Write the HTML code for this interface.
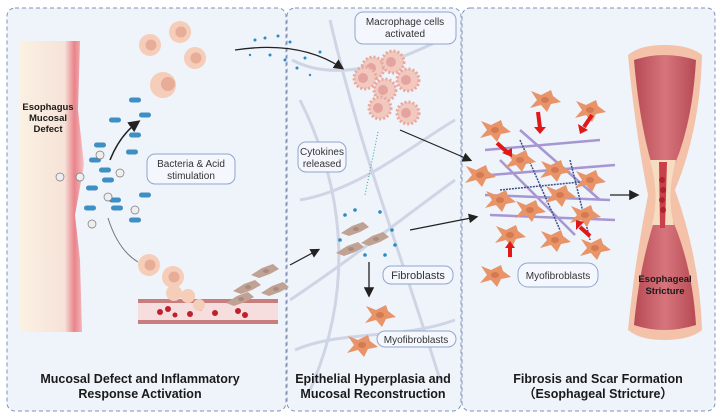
<!DOCTYPE html>
<html><head><style>
html,body{margin:0;padding:0;background:#fff;}
svg{display:block;font-family:"Liberation Sans",sans-serif;}
.t{font-weight:bold;font-size:12.5px;fill:#1a1a1a;text-anchor:middle;}
.b{font-size:10px;fill:#333;text-anchor:middle;}
.box{fill:#f4f7fd;stroke:#8fa6cc;stroke-width:1;}
</style></head><body>
<svg width="721" height="420" viewBox="0 0 721 420">
<defs>
<marker id="a" markerWidth="8" markerHeight="8" refX="6" refY="4" orient="auto"><path d="M0,0 L8,4 L0,8 z" fill="#222"/></marker>
<linearGradient id="wall" x1="0" x2="1"><stop offset="0" stop-color="#fbf1e3"/><stop offset="0.7" stop-color="#f6e2d8"/><stop offset="0.85" stop-color="#e9838a"/><stop offset="1" stop-color="#f3c4c7"/></linearGradient>
<linearGradient id="tube" x1="0" x2="1"><stop offset="0" stop-color="#b64a55"/><stop offset="0.5" stop-color="#d7757c"/><stop offset="1" stop-color="#b64a55"/></linearGradient>
<g id="myo"><path d="M-14,-9 L-4,-5 L6,-10 L8,-4 L16,2 L6,4 L2,12 L-4,5 L-15,8 L-8,0 Z" fill="#e89468"/><ellipse cx="0" cy="0" rx="4" ry="3" fill="#d47a52"/></g>
<g id="fib"><path d="M-14,3 L-3,-4 L8,-8 L14,-3 L5,2 L-6,6 Z" fill="#bfa294"/><ellipse cx="1" cy="-1" rx="3" ry="2" fill="#a88b7c"/></g>
<g id="mac"><circle r="11" fill="#f2c9be" stroke="#e8a8a0" stroke-width="3" stroke-dasharray="2 2"/><circle cx="-2" cy="0" r="5" fill="#e5a3a0"/></g>
<g id="cell"><circle r="11" fill="#f5cdb8"/><circle cx="1" cy="0" r="5.5" fill="#e7ad98"/></g>
<g id="bac"><rect x="-6" y="-2.5" width="12" height="5" rx="2.5" fill="#3d8fc4"/></g>
<g id="h"><circle r="4" fill="#eee" stroke="#777" stroke-width="0.7"/></g>
</defs>
<rect width="721" height="420" fill="#fff"/>
<rect x="7" y="8" width="279" height="403" rx="8" fill="#eff3fa" stroke="#7f92b8" stroke-dasharray="4 3"/>
<rect x="287" y="8" width="174" height="403" rx="8" fill="#eff3fa" stroke="#7f92b8" stroke-dasharray="4 3"/>
<rect x="462" y="8" width="253" height="403" rx="8" fill="#eff3fa" stroke="#7f92b8" stroke-dasharray="4 3"/>
<path d="M20,41 L80,41 L78,110 L84,165 L75,215 L80,260 L82,332 L20,332 Z" fill="url(#wall)"/>
<text class="t" style="font-size:9.5px" x="48" y="110">Esophagus</text>
<text class="t" style="font-size:9.5px" x="48" y="121">Mucosal</text>
<text class="t" style="font-size:9.5px" x="48" y="132">Defect</text>
<g stroke="#c8cee0" stroke-width="3" fill="none" opacity="0.8">
<path d="M330,20 C360,150 400,250 440,380"/><path d="M300,100 C350,200 350,300 310,390"/><path d="M290,300 C350,260 400,220 455,180"/><path d="M300,200 C360,190 420,140 455,120"/><path d="M292,60 C330,80 380,70 440,40"/><path d="M295,350 C340,330 400,340 455,320"/></g>
<use href="#cell" x="150" y="45"/><use href="#cell" x="180" y="32"/><use href="#cell" x="195" y="58"/>
<circle cx="163" cy="85" r="13" fill="#f5cdb8"/><circle cx="168" cy="84" r="7" fill="#e7ad98"/>
<g><use href="#bac" x="135" y="100"/><use href="#bac" x="145" y="115"/><use href="#bac" x="115" y="120"/><use href="#bac" x="135" y="135"/><use href="#bac" x="100" y="145"/><use href="#bac" x="95" y="160"/><use href="#bac" x="105" y="170"/><use href="#bac" x="92" y="188"/><use href="#bac" x="90" y="208"/><use href="#bac" x="117" y="208"/><use href="#bac" x="132" y="152"/><use href="#bac" x="145" y="195"/><use href="#bac" x="108" y="180"/><use href="#bac" x="115" y="200"/><use href="#bac" x="135" y="220"/></g>
<use href="#h" x="60" y="177"/><use href="#h" x="80" y="177"/><use href="#h" x="100" y="155"/><use href="#h" x="120" y="173"/><use href="#h" x="108" y="197"/><use href="#h" x="135" y="210"/><use href="#h" x="92" y="224"/>
<path d="M110,160 Q120,135 138,122" stroke="#222" stroke-width="1.5" fill="none" marker-end="url(#a)"/>
<path d="M108,218 Q118,250 138,262" stroke="#777" stroke-width="1" fill="none"/>
<rect class="box" x="147" y="154" width="88" height="30" rx="8"/>
<text class="b" x="191" y="167">Bacteria &amp; Acid</text><text class="b" x="191" y="179">stimulation</text>
<rect x="138" y="300" width="140" height="24" fill="#f7dede"/>
<rect x="138" y="299" width="140" height="4" fill="#c97e7e"/><rect x="138" y="320" width="140" height="4" fill="#c97e7e"/>
<g fill="#c0202e"><circle cx="160" cy="312" r="3"/><circle cx="168" cy="309" r="3"/><circle cx="190" cy="314" r="3"/><circle cx="200" cy="308" r="3"/><circle cx="215" cy="313" r="3"/><circle cx="238" cy="311" r="3"/><circle cx="245" cy="315" r="3"/><circle cx="175" cy="315" r="2.5"/></g>
<use href="#cell" x="149" y="265"/><use href="#cell" x="173" y="277"/><circle cx="174" cy="293" r="8" fill="#f5cdb8"/><circle cx="188" cy="296" r="7" fill="#f5cdb8"/><circle cx="199" cy="305" r="6" fill="#f5cdb8"/>
<use href="#fib" x="247" y="288"/><use href="#fib" x="265" y="272"/><use href="#fib" x="240" y="300"/><use href="#fib" x="275" y="290"/>
<path d="M290,265 L318,250" stroke="#222" stroke-width="1.2" marker-end="url(#a)"/>
<g fill="#2a8bc4"><circle cx="255" cy="40" r="1.5"/><circle cx="265" cy="38" r="1.5"/><circle cx="278" cy="36" r="1.5"/><circle cx="290" cy="42" r="1.5"/><circle cx="270" cy="55" r="1.5"/><circle cx="285" cy="60" r="1.5"/><circle cx="297" cy="68" r="1.5"/><circle cx="305" cy="58" r="1.5"/><circle cx="320" cy="52" r="1.5"/><circle cx="310" cy="75" r="1.2"/><circle cx="250" cy="55" r="1.2"/></g>
<path d="M235,50 Q300,40 342,68" stroke="#222" stroke-width="1.3" fill="none" marker-end="url(#a)"/>
<rect class="box" x="355" y="12" width="101" height="32" rx="8"/>
<text class="b" x="405" y="25">Macrophage cells</text><text class="b" x="405" y="37">activated</text>
<use href="#mac" x="373" y="68"/><use href="#mac" x="393" y="62"/><use href="#mac" x="408" y="80"/><use href="#mac" x="385" y="90"/><use href="#mac" x="380" y="108"/><use href="#mac" x="408" y="113"/><use href="#mac" x="365" y="78"/>
<rect class="box" x="298" y="142" width="48" height="30" rx="8"/>
<text class="b" x="322" y="155">Cytokines</text><text class="b" x="322" y="167">released</text>
<path d="M378,132 L365,195" stroke="#3aa0a8" stroke-width="1" stroke-dasharray="1 2"/>
<g fill="#2a8bc4"><circle cx="345" cy="215" r="1.8"/><circle cx="355" cy="210" r="1.8"/><circle cx="380" cy="212" r="1.8"/><circle cx="392" cy="230" r="1.8"/><circle cx="340" cy="240" r="1.8"/><circle cx="365" cy="255" r="1.8"/><circle cx="385" cy="255" r="1.8"/><circle cx="395" cy="245" r="1.8"/></g>
<use href="#fib" x="355" y="230"/><use href="#fib" x="375" y="240"/><use href="#fib" x="350" y="250"/>
<rect class="box" x="383" y="266" width="70" height="18" rx="8"/>
<text class="b" x="418" y="279" style="font-size:11px">Fibroblasts</text>
<path d="M369,262 L369,295" stroke="#222" stroke-width="1.3" marker-end="url(#a)"/>
<use href="#myo" x="380" y="315"/><use href="#myo" x="362" y="345"/>
<rect class="box" x="377" y="331" width="79" height="16" rx="8"/>
<text class="b" x="416" y="343">Myofibroblasts</text>
<path d="M400,130 L470,160" stroke="#222" stroke-width="1.2" marker-end="url(#a)"/>
<path d="M410,230 L476,217" stroke="#222" stroke-width="1.2" marker-end="url(#a)"/>
<g stroke="#9a86cc" stroke-width="2.5" fill="none" opacity="0.85">
<path d="M485,150 L600,140"/><path d="M490,175 L615,165"/><path d="M485,195 L610,200"/><path d="M490,215 L615,220"/><path d="M520,130 L600,200"/><path d="M500,160 L575,235"/></g>
<g stroke="#3e4f8c" stroke-width="1.5" fill="none" stroke-dasharray="2 1">
<path d="M520,140 L560,230"/><path d="M570,160 L590,240"/><path d="M500,190 L600,180"/></g>
<use href="#myo" x="545" y="100"/><use href="#myo" x="590" y="110"/><use href="#myo" x="495" y="130"/><use href="#myo" x="520" y="160"/><use href="#myo" x="555" y="170"/><use href="#myo" x="590" y="180"/><use href="#myo" x="500" y="200"/><use href="#myo" x="530" y="210"/><use href="#myo" x="560" y="195"/><use href="#myo" x="585" y="215"/><use href="#myo" x="510" y="235"/><use href="#myo" x="555" y="240"/><use href="#myo" x="595" y="248"/><use href="#myo" x="495" y="275"/><use href="#myo" x="480" y="175"/>
<g stroke="#e01818" stroke-width="4" fill="none">
<path d="M538,112 L540,128"/><path d="M592,115 L584,127"/><path d="M497,143 L507,152"/><path d="M510,257 L510,246"/><path d="M590,236 L580,227"/></g>
<g fill="#e01818"><path d="M534,127 L546,127 L540,134 Z"/><path d="M578,124 L588,130 L580,134 Z"/><path d="M502,153 L512,148 L512,157 Z"/><path d="M505,248 L515,248 L510,241 Z"/><path d="M576,230 L584,222 L576,220 Z"/></g>
<rect class="box" x="518" y="263" width="80" height="24" rx="10"/>
<text class="b" x="558" y="279">Myofibroblasts</text>
<path d="M628,55 Q640,45 664,45 Q690,45 702,55 Q700,130 675,190 Q700,260 702,330 Q690,340 664,340 Q640,340 628,330 Q635,260 648,195 Q635,130 628,55 Z" fill="#f3c2a8"/>
<path d="M634,60 Q664,50 696,60 Q692,130 670,175 L668,210 Q692,260 696,325 Q664,335 634,325 Q640,260 658,210 L655,175 Q640,130 634,60 Z" fill="url(#tube)"/>
<path d="M650,160 Q660,195 652,225 L674,225 Q666,195 676,160 Z" fill="#f6dcc0"/>
<path d="M659,162 L667,162 L665,228 L660,228 Z" fill="#c8404a"/>
<g fill="#b02030"><circle cx="662" cy="180" r="3"/><circle cx="663" cy="190" r="3"/><circle cx="662" cy="200" r="3"/><circle cx="663" cy="210" r="3"/></g>
<path d="M610,195 L637,195" stroke="#222" stroke-width="1.3" marker-end="url(#a)"/>
<text class="t" style="font-size:9.5px" x="665" y="282">Esophageal</text>
<text class="t" style="font-size:9.5px" x="665" y="294">Stricture</text>
<text class="t" x="140" y="383">Mucosal Defect and Inflammatory</text>
<text class="t" x="140" y="398">Response Activation</text>
<text class="t" x="373" y="383">Epithelial Hyperplasia and</text>
<text class="t" x="373" y="398">Mucosal Reconstruction</text>
<text class="t" x="598" y="383">Fibrosis and Scar Formation</text>
<text class="t" x="598" y="398">（Esophageal Stricture）</text>
</svg>
</body></html>
